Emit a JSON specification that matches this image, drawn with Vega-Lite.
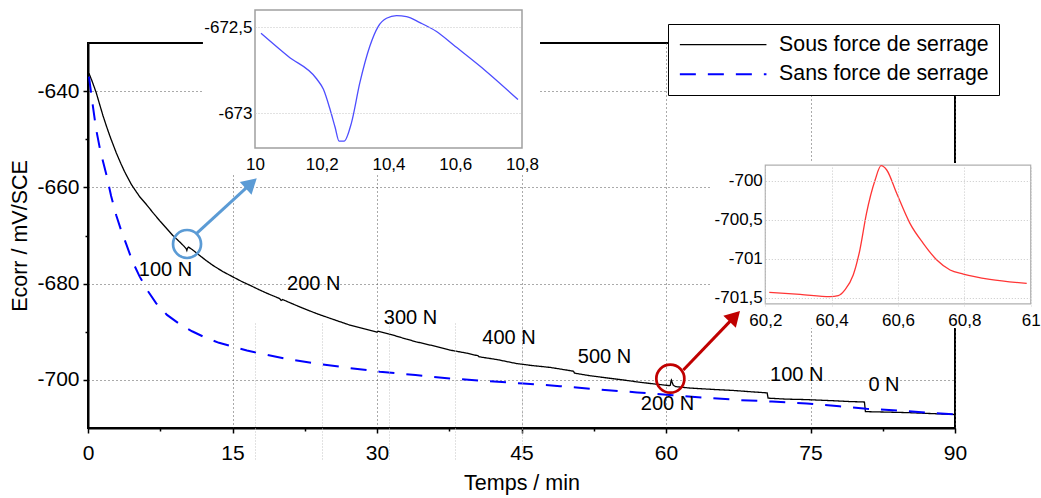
{
  "$schema": "https://vega.github.io/schema/vega-lite/v6.json",
  "width": 867,
  "height": 385,
  "autosize": {"type": "none"},
  "padding": {"left": 88, "top": 43, "right": 86, "bottom": 70},
  "background": "white",
  "config": {
    "font": "Liberation Sans",
    "view": {"stroke": "black", "strokeWidth": 2},
    "locale": {"number": {"decimal": ",", "thousands": " ", "grouping": [3], "currency": ["", " €"], "minus": "-"}},
    "axis": {"labelColor": "black", "titleColor": "black", "titleFontWeight": "normal", "labelFont": "Liberation Sans", "titleFont": "Liberation Sans"}
  },
  "datasets": {
    "main": [
      {"t": 0.1, "e": -636.3, "serie": "Sous force de serrage"},
      {"t": 0.4, "e": -637.8, "serie": "Sous force de serrage"},
      {"t": 0.85, "e": -640.3, "serie": "Sous force de serrage"},
      {"t": 1.2, "e": -642.7, "serie": "Sous force de serrage"},
      {"t": 1.54, "e": -645.0, "serie": "Sous force de serrage"},
      {"t": 1.9, "e": -647.2, "serie": "Sous force de serrage"},
      {"t": 2.3, "e": -649.5, "serie": "Sous force de serrage"},
      {"t": 2.93, "e": -652.8, "serie": "Sous force de serrage"},
      {"t": 3.4, "e": -655.0, "serie": "Sous force de serrage"},
      {"t": 3.79, "e": -656.7, "serie": "Sous force de serrage"},
      {"t": 4.5, "e": -659.4, "serie": "Sous force de serrage"},
      {"t": 5.35, "e": -661.9, "serie": "Sous force de serrage"},
      {"t": 6.04, "e": -663.5, "serie": "Sous force de serrage"},
      {"t": 6.8, "e": -665.4, "serie": "Sous force de serrage"},
      {"t": 7.43, "e": -666.9, "serie": "Sous force de serrage"},
      {"t": 8.1, "e": -668.4, "serie": "Sous force de serrage"},
      {"t": 8.81, "e": -670.0, "serie": "Sous force de serrage"},
      {"t": 9.5, "e": -671.3, "serie": "Sous force de serrage"},
      {"t": 10.0, "e": -672.3, "serie": "Sous force de serrage"},
      {"t": 10.18, "e": -672.7, "serie": "Sous force de serrage"},
      {"t": 10.26, "e": -673.1, "serie": "Sous force de serrage"},
      {"t": 10.32, "e": -672.7, "serie": "Sous force de serrage"},
      {"t": 10.43, "e": -672.4, "serie": "Sous force de serrage"},
      {"t": 10.8, "e": -672.9, "serie": "Sous force de serrage"},
      {"t": 11.5, "e": -674.0, "serie": "Sous force de serrage"},
      {"t": 12.2, "e": -675.1, "serie": "Sous force de serrage"},
      {"t": 12.96, "e": -676.2, "serie": "Sous force de serrage"},
      {"t": 14.0, "e": -677.5, "serie": "Sous force de serrage"},
      {"t": 15.04, "e": -678.6, "serie": "Sous force de serrage"},
      {"t": 16.0, "e": -679.6, "serie": "Sous force de serrage"},
      {"t": 16.77, "e": -680.3, "serie": "Sous force de serrage"},
      {"t": 17.8, "e": -681.3, "serie": "Sous force de serrage"},
      {"t": 18.8, "e": -682.2, "serie": "Sous force de serrage"},
      {"t": 19.9, "e": -683.1, "serie": "Sous force de serrage"},
      {"t": 20.05, "e": -683.5, "serie": "Sous force de serrage"},
      {"t": 20.2, "e": -683.3, "serie": "Sous force de serrage"},
      {"t": 21.0, "e": -684.0, "serie": "Sous force de serrage"},
      {"t": 22.3, "e": -685.1, "serie": "Sous force de serrage"},
      {"t": 23.7, "e": -686.2, "serie": "Sous force de serrage"},
      {"t": 25.4, "e": -687.4, "serie": "Sous force de serrage"},
      {"t": 27.16, "e": -688.6, "serie": "Sous force de serrage"},
      {"t": 28.7, "e": -689.4, "serie": "Sous force de serrage"},
      {"t": 30.0, "e": -690.1, "serie": "Sous force de serrage"},
      {"t": 30.1, "e": -689.9, "serie": "Sous force de serrage"},
      {"t": 31.5, "e": -690.6, "serie": "Sous force de serrage"},
      {"t": 33.0, "e": -691.5, "serie": "Sous force de serrage"},
      {"t": 34.09, "e": -692.1, "serie": "Sous force de serrage"},
      {"t": 35.8, "e": -692.9, "serie": "Sous force de serrage"},
      {"t": 37.55, "e": -693.8, "serie": "Sous force de serrage"},
      {"t": 39.2, "e": -694.4, "serie": "Sous force de serrage"},
      {"t": 40.5, "e": -695.0, "serie": "Sous force de serrage"},
      {"t": 40.6, "e": -695.2, "serie": "Sous force de serrage"},
      {"t": 42.5, "e": -695.8, "serie": "Sous force de serrage"},
      {"t": 44.47, "e": -696.6, "serie": "Sous force de serrage"},
      {"t": 46.0, "e": -697.0, "serie": "Sous force de serrage"},
      {"t": 47.93, "e": -697.4, "serie": "Sous force de serrage"},
      {"t": 49.5, "e": -697.9, "serie": "Sous force de serrage"},
      {"t": 50.4, "e": -698.2, "serie": "Sous force de serrage"},
      {"t": 50.5, "e": -698.6, "serie": "Sous force de serrage"},
      {"t": 52.0, "e": -699.1, "serie": "Sous force de serrage"},
      {"t": 53.5, "e": -699.5, "serie": "Sous force de serrage"},
      {"t": 55.5, "e": -700.0, "serie": "Sous force de serrage"},
      {"t": 57.3, "e": -700.5, "serie": "Sous force de serrage"},
      {"t": 59.0, "e": -700.9, "serie": "Sous force de serrage"},
      {"t": 60.38, "e": -701.2, "serie": "Sous force de serrage"},
      {"t": 60.45, "e": -701.1, "serie": "Sous force de serrage"},
      {"t": 60.53, "e": -700.1, "serie": "Sous force de serrage"},
      {"t": 60.56, "e": -700.0, "serie": "Sous force de serrage"},
      {"t": 60.62, "e": -700.4, "serie": "Sous force de serrage"},
      {"t": 60.75, "e": -701.1, "serie": "Sous force de serrage"},
      {"t": 61.0, "e": -701.4, "serie": "Sous force de serrage"},
      {"t": 62.5, "e": -701.7, "serie": "Sous force de serrage"},
      {"t": 65.0, "e": -702.0, "serie": "Sous force de serrage"},
      {"t": 67.0, "e": -702.2, "serie": "Sous force de serrage"},
      {"t": 69.0, "e": -702.5, "serie": "Sous force de serrage"},
      {"t": 70.5, "e": -702.7, "serie": "Sous force de serrage"},
      {"t": 70.6, "e": -703.8, "serie": "Sous force de serrage"},
      {"t": 72.5, "e": -704.0, "serie": "Sous force de serrage"},
      {"t": 74.6, "e": -704.1, "serie": "Sous force de serrage"},
      {"t": 77.0, "e": -704.3, "serie": "Sous force de serrage"},
      {"t": 79.0, "e": -704.5, "serie": "Sous force de serrage"},
      {"t": 80.6, "e": -704.6, "serie": "Sous force de serrage"},
      {"t": 80.7, "e": -706.6, "serie": "Sous force de serrage"},
      {"t": 83.0, "e": -706.7, "serie": "Sous force de serrage"},
      {"t": 85.0, "e": -706.8, "serie": "Sous force de serrage"},
      {"t": 87.5, "e": -707.0, "serie": "Sous force de serrage"},
      {"t": 90.0, "e": -707.2, "serie": "Sous force de serrage"},
      {"t": 0.1, "e": -637.0, "serie": "Sans force de serrage"},
      {"t": 0.3, "e": -640.0, "serie": "Sans force de serrage"},
      {"t": 0.5, "e": -643.0, "serie": "Sans force de serrage"},
      {"t": 0.85, "e": -648.0, "serie": "Sans force de serrage"},
      {"t": 1.3, "e": -652.6, "serie": "Sans force de serrage"},
      {"t": 1.89, "e": -657.2, "serie": "Sans force de serrage"},
      {"t": 2.4, "e": -661.8, "serie": "Sans force de serrage"},
      {"t": 2.93, "e": -665.8, "serie": "Sans force de serrage"},
      {"t": 3.45, "e": -669.0, "serie": "Sans force de serrage"},
      {"t": 3.97, "e": -671.8, "serie": "Sans force de serrage"},
      {"t": 4.6, "e": -675.3, "serie": "Sans force de serrage"},
      {"t": 5.35, "e": -678.5, "serie": "Sans force de serrage"},
      {"t": 6.2, "e": -681.5, "serie": "Sans force de serrage"},
      {"t": 7.08, "e": -684.1, "serie": "Sans force de serrage"},
      {"t": 8.2, "e": -686.5, "serie": "Sans force de serrage"},
      {"t": 9.5, "e": -688.4, "serie": "Sans force de serrage"},
      {"t": 10.8, "e": -689.9, "serie": "Sans force de serrage"},
      {"t": 12.28, "e": -691.3, "serie": "Sans force de serrage"},
      {"t": 13.6, "e": -692.3, "serie": "Sans force de serrage"},
      {"t": 15.04, "e": -693.1, "serie": "Sans force de serrage"},
      {"t": 16.5, "e": -693.9, "serie": "Sans force de serrage"},
      {"t": 17.8, "e": -694.5, "serie": "Sans force de serrage"},
      {"t": 20.5, "e": -695.6, "serie": "Sans force de serrage"},
      {"t": 23.7, "e": -696.6, "serie": "Sans force de serrage"},
      {"t": 27.0, "e": -697.5, "serie": "Sans force de serrage"},
      {"t": 30.28, "e": -698.3, "serie": "Sans force de serrage"},
      {"t": 34.0, "e": -699.0, "serie": "Sans force de serrage"},
      {"t": 37.55, "e": -699.7, "serie": "Sans force de serrage"},
      {"t": 41.0, "e": -700.2, "serie": "Sans force de serrage"},
      {"t": 45.16, "e": -700.75, "serie": "Sans force de serrage"},
      {"t": 49.0, "e": -701.3, "serie": "Sans force de serrage"},
      {"t": 53.1, "e": -702.0, "serie": "Sans force de serrage"},
      {"t": 57.0, "e": -702.6, "serie": "Sans force de serrage"},
      {"t": 60.7, "e": -703.2, "serie": "Sans force de serrage"},
      {"t": 64.0, "e": -703.7, "serie": "Sans force de serrage"},
      {"t": 67.7, "e": -704.2, "serie": "Sans force de serrage"},
      {"t": 71.0, "e": -704.5, "serie": "Sans force de serrage"},
      {"t": 74.6, "e": -704.9, "serie": "Sans force de serrage"},
      {"t": 78.0, "e": -705.5, "serie": "Sans force de serrage"},
      {"t": 80.8, "e": -706.0, "serie": "Sans force de serrage"},
      {"t": 85.0, "e": -706.5, "serie": "Sans force de serrage"},
      {"t": 90.0, "e": -707.2, "serie": "Sans force de serrage"}
    ],
    "labels": [
      {"t": 8.04, "e": -677.1, "lab": "100 N"},
      {"t": 23.43, "e": -680.17, "lab": "200 N"},
      {"t": 33.48, "e": -687.11, "lab": "300 N"},
      {"t": 43.7, "e": -691.27, "lab": "400 N"},
      {"t": 53.62, "e": -695.24, "lab": "500 N"},
      {"t": 60.16, "e": -705.04, "lab": "200 N"},
      {"t": 73.57, "e": -699.02, "lab": "100 N"},
      {"t": 82.63, "e": -701.14, "lab": "0 N"}
    ],
    "circles": [
      {"zone": "10 min", "t": 10.28, "e": -671.77},
      {"zone": "60 min", "t": 60.45, "e": -699.76}
    ],
    "arrows": [
      {"zone": "10 min", "t": 11.28, "e": -669.54, "t2": 16.94, "e2": -659.17},
      {"zone": "60 min", "t": 61.8, "e": -697.95, "t2": 67.14, "e2": -686.81}
    ],
    "inset1": [
      {"t": 10.018, "e": -672.535}, {"t": 10.1, "e": -672.67}, {"t": 10.185, "e": -672.8},
      {"t": 10.205, "e": -672.86}, {"t": 10.225, "e": -672.977}, {"t": 10.24, "e": -673.08},
      {"t": 10.252, "e": -673.16}, {"t": 10.267, "e": -673.16}, {"t": 10.289, "e": -673.054},
      {"t": 10.314, "e": -672.823}, {"t": 10.344, "e": -672.61}, {"t": 10.369, "e": -672.496},
      {"t": 10.394, "e": -672.448}, {"t": 10.424, "e": -672.433}, {"t": 10.454, "e": -672.438},
      {"t": 10.494, "e": -672.473}, {"t": 10.544, "e": -672.525}, {"t": 10.594, "e": -672.602},
      {"t": 10.693, "e": -672.756}, {"t": 10.788, "e": -672.919}
    ],
    "inset2": [
      {"t": 60.212, "e": -701.432}, {"t": 60.305, "e": -701.457}, {"t": 60.395, "e": -701.487},
      {"t": 60.42, "e": -701.474}, {"t": 60.44, "e": -701.4}, {"t": 60.465, "e": -701.21},
      {"t": 60.485, "e": -700.889}, {"t": 60.505, "e": -700.419}, {"t": 60.531, "e": -699.991},
      {"t": 60.549, "e": -699.808}, {"t": 60.566, "e": -699.863}, {"t": 60.596, "e": -700.162},
      {"t": 60.636, "e": -700.547}, {"t": 60.676, "e": -700.803}, {"t": 60.717, "e": -701.017},
      {"t": 60.757, "e": -701.145}, {"t": 60.797, "e": -701.197}, {"t": 60.877, "e": -701.265},
      {"t": 60.988, "e": -701.316}
    ]
  },
  "layer": [
    {
      "layer": [
        {
          "data": {"values": [{}]},
          "mark": {"type": "rect", "color": "white"},
          "encoding": {
            "x": {"datum": 9.844, "type": "quantitative", "scale": {"domain": [10, 10.8], "range": [167, 434], "nice": false, "zero": false},
              "axis": {"orient": "bottom", "offset": -280, "values": [10, 10.2, 10.4, 10.6, 10.8], "format": ".3~r", "title": null, "ticks": false, "domain": false, "labelFontSize": 17, "labelPadding": 8, "grid": true, "gridColor": "#c4c4c4", "gridDash": [1, 2], "gridWidth": 1, "zindex": 1, "labelFlush": false, "labelOverlap": false}},
            "x2": {"datum": 10.854},
            "y": {"datum": -673.357, "type": "quantitative", "scale": {"domain": [-673.2, -672.4], "range": [105, -33], "nice": false, "zero": false},
              "axis": {"orient": "left", "offset": -167, "values": [-673, -672.5], "format": ".4~r", "title": null, "ticks": false, "domain": false, "labelFontSize": 17, "labelPadding": 3, "grid": true, "gridColor": "#c4c4c4", "gridDash": [1, 2], "gridWidth": 1, "zindex": 1, "labelOverlap": false}},
            "y2": {"datum": -672.3}
          }
        },
        {
          "data": {"values": [{}]},
          "mark": {"type": "rect", "filled": false, "color": "#a0a0a0", "strokeWidth": 1.5},
          "encoding": {
            "x": {"datum": 10, "type": "quantitative", "scale": {"domain": [10, 10.8], "range": [167, 434], "nice": false, "zero": false},
              "axis": {"orient": "bottom", "offset": -280, "values": [10, 10.2, 10.4, 10.6, 10.8], "format": ".3~r", "title": null, "ticks": false, "domain": false, "labelFontSize": 17, "labelPadding": 8, "grid": true, "gridColor": "#c4c4c4", "gridDash": [1, 2], "gridWidth": 1, "zindex": 1, "labelFlush": false, "labelOverlap": false}},
            "x2": {"datum": 10.8},
            "y": {"datum": -673.2, "type": "quantitative", "scale": {"domain": [-673.2, -672.4], "range": [105, -33], "nice": false, "zero": false},
              "axis": {"orient": "left", "offset": -167, "values": [-673, -672.5], "format": ".4~r", "title": null, "ticks": false, "domain": false, "labelFontSize": 17, "labelPadding": 3, "grid": true, "gridColor": "#c4c4c4", "gridDash": [1, 2], "gridWidth": 1, "zindex": 1, "labelOverlap": false}},
            "y2": {"datum": -672.4}
          }
        },
        {
          "data": {"name": "inset1"},
          "mark": {"type": "line", "color": "#4d4dff", "strokeWidth": 1.3, "interpolate": "monotone"},
          "encoding": {
            "x": {"field": "t", "type": "quantitative", "scale": {"domain": [10, 10.8], "range": [167, 434], "nice": false, "zero": false},
              "axis": {"orient": "bottom", "offset": -280, "values": [10, 10.2, 10.4, 10.6, 10.8], "format": ".3~r", "title": null, "ticks": false, "domain": false, "labelFontSize": 17, "labelPadding": 8, "grid": true, "gridColor": "#c4c4c4", "gridDash": [1, 2], "gridWidth": 1, "zindex": 1, "labelFlush": false, "labelOverlap": false}},
            "y": {"field": "e", "type": "quantitative", "scale": {"domain": [-673.2, -672.4], "range": [105, -33], "nice": false, "zero": false},
              "axis": {"orient": "left", "offset": -167, "values": [-673, -672.5], "format": ".4~r", "title": null, "ticks": false, "domain": false, "labelFontSize": 17, "labelPadding": 3, "grid": true, "gridColor": "#c4c4c4", "gridDash": [1, 2], "gridWidth": 1, "zindex": 1, "labelOverlap": false}}
          }
        }
      ]
    },
    {
      "layer": [
        {
          "data": {"values": [{}]},
          "mark": {"type": "rect", "color": "white"},
          "encoding": {
            "x": {"datum": 60.0333, "type": "quantitative", "scale": {"domain": [60.2, 61], "range": [677.3, 942.7], "nice": false, "zero": false},
              "axis": {"orient": "bottom", "offset": -124.1, "values": [60.2, 60.4, 60.6, 60.8, 61], "format": ".3~r", "title": null, "ticks": false, "domain": false, "labelFontSize": 17, "labelPadding": 9, "grid": true, "gridColor": "#c8c8c8", "gridDash": [1, 2], "gridWidth": 1, "zindex": 1, "labelFlush": false, "labelOverlap": false}},
            "x2": {"datum": 61.031},
            "y": {"datum": -701.889, "type": "quantitative", "scale": {"domain": [-701.58, -699.8], "range": [260.9, 122.1], "nice": false, "zero": false},
              "axis": {"orient": "left", "offset": -677.3, "values": [-701.5, -701, -700.5, -700], "format": ".4~r", "title": null, "ticks": false, "domain": false, "labelFontSize": 17, "labelPadding": 3, "grid": true, "gridColor": "#c8c8c8", "gridDash": [1, 2], "gridWidth": 1, "zindex": 1, "labelOverlap": false}},
            "y2": {"datum": -699.773}
          }
        },
        {
          "data": {"values": [{}]},
          "mark": {"type": "rect", "filled": false, "color": "#b0b0b0", "strokeWidth": 1.2},
          "encoding": {
            "x": {"datum": 60.2, "type": "quantitative", "scale": {"domain": [60.2, 61], "range": [677.3, 942.7], "nice": false, "zero": false},
              "axis": {"orient": "bottom", "offset": -124.1, "values": [60.2, 60.4, 60.6, 60.8, 61], "format": ".3~r", "title": null, "ticks": false, "domain": false, "labelFontSize": 17, "labelPadding": 9, "grid": true, "gridColor": "#c8c8c8", "gridDash": [1, 2], "gridWidth": 1, "zindex": 1, "labelFlush": false, "labelOverlap": false}},
            "x2": {"datum": 61},
            "y": {"datum": -701.58, "type": "quantitative", "scale": {"domain": [-701.58, -699.8], "range": [260.9, 122.1], "nice": false, "zero": false},
              "axis": {"orient": "left", "offset": -677.3, "values": [-701.5, -701, -700.5, -700], "format": ".4~r", "title": null, "ticks": false, "domain": false, "labelFontSize": 17, "labelPadding": 3, "grid": true, "gridColor": "#c8c8c8", "gridDash": [1, 2], "gridWidth": 1, "zindex": 1, "labelOverlap": false}},
            "y2": {"datum": -699.8}
          }
        },
        {
          "data": {"name": "inset2"},
          "mark": {"type": "line", "color": "#ff3535", "strokeWidth": 1.3, "interpolate": "monotone"},
          "encoding": {
            "x": {"field": "t", "type": "quantitative", "scale": {"domain": [60.2, 61], "range": [677.3, 942.7], "nice": false, "zero": false},
              "axis": {"orient": "bottom", "offset": -124.1, "values": [60.2, 60.4, 60.6, 60.8, 61], "format": ".3~r", "title": null, "ticks": false, "domain": false, "labelFontSize": 17, "labelPadding": 9, "grid": true, "gridColor": "#c8c8c8", "gridDash": [1, 2], "gridWidth": 1, "zindex": 1, "labelFlush": false, "labelOverlap": false}},
            "y": {"field": "e", "type": "quantitative", "scale": {"domain": [-701.58, -699.8], "range": [260.9, 122.1], "nice": false, "zero": false},
              "axis": {"orient": "left", "offset": -677.3, "values": [-701.5, -701, -700.5, -700], "format": ".4~r", "title": null, "ticks": false, "domain": false, "labelFontSize": 17, "labelPadding": 3, "grid": true, "gridColor": "#c8c8c8", "gridDash": [1, 2], "gridWidth": 1, "zindex": 1, "labelOverlap": false}}
          }
        }
      ]
    },
    {
      "encoding": {
        "x": {"field": "t", "type": "quantitative", "scale": {"domain": [0, 90], "nice": false, "zero": false},
          "axis": {"orient": "bottom", "values": [0, 15, 30, 45, 60, 75, 90], "title": "Temps / min", "titleFontSize": 21.5, "labelFontSize": 21, "tickSize": 5, "tickColor": "black", "tickWidth": 1.5, "domainColor": "black", "domainWidth": 2, "labelPadding": 9, "titlePadding": 9, "grid": true, "gridColor": "#555555", "gridDash": [1, 3], "gridWidth": 1, "labelFlush": false, "labelOverlap": false}},
        "y": {"field": "e", "type": "quantitative", "scale": {"domain": [-710, -630], "nice": false, "zero": false},
          "axis": {"orient": "left", "values": [-700, -680, -660, -640], "title": "Ecorr / mV/SCE", "titleFontSize": 21.5, "labelFontSize": 21, "tickSize": 5, "tickColor": "black", "tickWidth": 1.5, "domainColor": "black", "domainWidth": 2, "labelPadding": 4, "titlePadding": 5, "grid": true, "gridColor": "#555555", "gridDash": [1, 3], "gridWidth": 1, "labelOverlap": false}}
      },
      "layer": [
        {
          "data": {"name": "main"},
          "mark": {"type": "line"},
          "encoding": {
            "color": {"field": "serie", "type": "nominal", "scale": {"domain": ["Sous force de serrage", "Sans force de serrage"], "range": ["black", "#0000ff"]},
              "legend": {"title": null, "orient": "none", "legendX": 580, "legendY": -19, "labelFontSize": 21.3, "labelFont": "Liberation Sans", "labelColor": "black", "labelLimit": 400, "symbolType": "M-5,0H5", "symbolSize": 300, "symbolStrokeWidth": 1.5, "symbolOffset": 34.5, "labelOffset": 45.3, "padding": 10, "rowPadding": 7.7, "strokeColor": "black", "fillColor": "white"}},
            "strokeDash": {"field": "serie", "type": "nominal", "scale": {"domain": ["Sous force de serrage", "Sans force de serrage"], "range": [[1, 0], [16, 12]]},
              "legend": {"title": null, "orient": "none", "legendX": 580, "legendY": -19, "labelFontSize": 21.3, "labelFont": "Liberation Sans", "labelColor": "black", "labelLimit": 400, "symbolType": "M-5,0H5", "symbolSize": 300, "symbolStrokeWidth": 1.5, "symbolOffset": 34.5, "labelOffset": 45.3, "padding": 10, "rowPadding": 7.7, "strokeColor": "black", "fillColor": "white"}},
            "strokeWidth": {"field": "serie", "type": "nominal", "scale": {"domain": ["Sous force de serrage", "Sans force de serrage"], "range": [1.3, 2]}, "legend": null}
          }
        },
        {
          "data": {"name": "labels"},
          "mark": {"type": "text", "fontSize": 20, "color": "black", "align": "center", "baseline": "middle"},
          "encoding": {"text": {"field": "lab", "type": "nominal"}}
        },
        {
          "data": {"name": "circles"},
          "mark": {"type": "point", "shape": "circle", "size": 784, "strokeWidth": 2.7, "filled": false, "opacity": 1},
          "encoding": {"stroke": {"field": "zone", "type": "nominal", "scale": {"domain": ["10 min", "60 min"], "range": ["#5b9bd5", "#c00000"]}, "legend": null}}
        },
        {
          "data": {"name": "arrows"},
          "mark": {"type": "rule", "strokeWidth": 3},
          "encoding": {
            "x2": {"field": "t2"},
            "y2": {"field": "e2"},
            "stroke": {"field": "zone", "type": "nominal", "scale": {"domain": ["10 min", "60 min"], "range": ["#5b9bd5", "#c00000"]}, "legend": null}
          }
        },
        {
          "data": {"name": "arrows"},
          "transform": [{"filter": "datum.zone == '10 min'"}],
          "mark": {"type": "point", "shape": "triangle-up", "size": 300, "filled": true, "color": "#5b9bd5", "opacity": 1, "angle": 47.5},
          "encoding": {"x": {"field": "t2", "type": "quantitative"}, "y": {"field": "e2", "type": "quantitative"}}
        },
        {
          "data": {"name": "arrows"},
          "transform": [{"filter": "datum.zone == '60 min'"}],
          "mark": {"type": "point", "shape": "triangle-up", "size": 300, "filled": true, "color": "#c00000", "opacity": 1, "angle": 43.9},
          "encoding": {"x": {"field": "t2", "type": "quantitative"}, "y": {"field": "e2", "type": "quantitative"}}
        }
      ]
    },
    {
      "data": {"name": "labels"},
      "mark": {"type": "point", "opacity": 0},
      "encoding": {
        "x": {"field": "t", "type": "quantitative", "scale": {"domain": [0, 90], "nice": false, "zero": false},
          "axis": {"orient": "bottom", "values": [7.5, 22.5, 37.5, 52.5, 67.5, 82.5], "labels": false, "domain": false, "grid": false, "tickSize": 3, "tickColor": "black", "tickWidth": 1.5, "title": null}},
        "y": {"field": "e", "type": "quantitative", "scale": {"domain": [-710, -630], "nice": false, "zero": false},
          "axis": {"orient": "left", "values": [-690, -670, -650], "labels": false, "domain": false, "grid": false, "tickSize": 3, "tickColor": "black", "tickWidth": 1.5, "title": null}}
      }
    }
  ],
  "resolve": {"scale": {"x": "independent", "y": "independent"}}
}
